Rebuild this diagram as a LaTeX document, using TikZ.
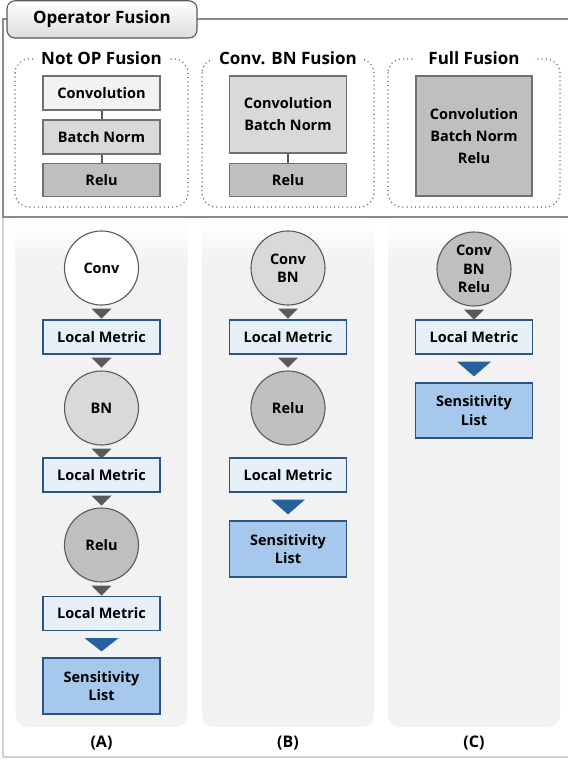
\documentclass[tikz,border=0pt]{standalone}
\usepackage{fontspec}
\setmainfont{Open Sans}[BoldFont={Open Sans Bold}]
\usetikzlibrary{calc}
\definecolor{lineg}{HTML}{595959}
\definecolor{boxb}{HTML}{707070}
\definecolor{f1}{HTML}{F2F2F2}
\definecolor{f2}{HTML}{D9D9D9}
\definecolor{f3}{HTML}{BFBFBF}
\definecolor{lmfill}{HTML}{E7EFF9}
\definecolor{blueb}{HTML}{2B5587}
\definecolor{sensfill}{HTML}{A6C8EC}
\definecolor{bluetri}{HTML}{27609E}
\definecolor{panelg}{HTML}{F2F2F2}
\definecolor{framet}{HTML}{8A8A8A}
\definecolor{frameb}{HTML}{D0D0D0}
\definecolor{tabbot}{HTML}{DCDCDC}
\begin{document}
\begin{tikzpicture}[x=1pt,y=-1pt,
  txt/.style={font=\bfseries\fontsize{14.5}{18.5}\selectfont, align=center},
  topbox/.style={txt, draw=boxb, line width=1.1pt, minimum width=117pt, inner sep=0pt},
  circ/.style={txt, circle, draw=lineg, line width=1.1pt, minimum size=74pt, inner sep=0pt},
  lmbox/.style={txt, draw=blueb, fill=lmfill, line width=1.2pt, minimum width=117pt, minimum height=34pt, inner sep=0pt},
  sensbox/.style={txt, draw=blueb, fill=sensfill, line width=1.2pt, minimum width=117pt, minimum height=56pt, inner sep=0pt},
  dotbox/.style={draw=lineg, line width=1.5pt, line cap=round, dash pattern=on 0pt off 4.2pt, rounded corners=14pt},
  grouptitle/.style={font=\bfseries\fontsize{17}{20}\selectfont, fill=white, inner xsep=6pt, inner ysep=1pt},
  conn/.style={draw=lineg, line width=2pt},
  tri/.style={fill=lineg},
  btri/.style={fill=bluetri},
  panel/.style={fill=panelg, rounded corners=12pt},
  caption/.style={font=\bfseries\fontsize{16}{18}\selectfont}
]
\useasboundingbox (0,0) rectangle (568,760);

% ---------- lower frame and panels ----------
\draw[frameb, line width=1.2pt] (3,217) -- (3,757) -- (568,757);
\foreach \cx in {101.5,288,474}{
  \fill[panel] (\cx-86,222) rectangle (\cx+86,727);
  \shade[top color=white, bottom color=panelg] (\cx-86,221) rectangle (\cx+86,262);
}
\node[caption] (capA) at (101.5,743) {(A)};
\node[caption] (capB) at (288,743) {(B)};
\node[caption] (capC) at (474,743) {(C)};

% ---------- top frame ----------
\draw[framet, line width=1.5pt] (7,19) -- (3,19) -- (3,217) -- (568,217);
\draw[framet, line width=1.5pt] (197,19) -- (568,19);
\shade[top color=white, bottom color=tabbot, draw=lineg, line width=1.1pt, rounded corners=8pt] (7,0.8) rectangle (197,38);
\node[font=\bfseries\fontsize{17}{20}\selectfont] (tab) at (102,19) {Operator Fusion};

% dotted groups
\draw[dotbox] (15,59) rectangle (188,207);
\draw[dotbox] (202,59) rectangle (374,207);
\draw[dotbox] (388,59) rectangle (560,207);
\node[grouptitle] (gA) at (101.5,58) {Not OP Fusion};
\node[grouptitle] (gB) at (288,58) {Conv. BN Fusion};
\node[grouptitle, inner xsep=14pt] (gC) at (474,58) {Full Fusion};

% A top boxes
\node[topbox, fill=f1, minimum height=34pt] (tA1) at (101.5,93) {Convolution};
\node[topbox, fill=f2, minimum height=34pt] (tA2) at (101.5,137) {Batch Norm};
\node[topbox, fill=f3, minimum height=33pt] (tA3) at (101.5,180) {Relu};
\draw[conn] (tA1.south) -- (tA2.north);
\draw[conn] (tA2.south) -- (tA3.north);
% B top boxes
\node[topbox, fill=f2, minimum height=77pt, font=\bfseries\fontsize{14.5}{22}\selectfont] (tB1) at (288,114.5) {Convolution\\Batch Norm};
\node[topbox, fill=f3, minimum height=33pt] (tB2) at (288,180) {Relu};
\draw[conn] (tB1.south) -- (tB2.north);
% C top box
\node[topbox, fill=f3, minimum height=120pt, minimum width=116pt, font=\bfseries\fontsize{14.5}{22}\selectfont] (tC1) at (474,136) {Convolution\\Batch Norm\\Relu};

% ---------- column A ----------
\node[circ, fill=white] (cA1) at (101.5,268) {Conv};
\node[lmbox] (lA1) at (101.5,337) {Local Metric};
\node[circ, fill=f2] (cA2) at (101.5,408) {BN};
\node[lmbox] (lA2) at (101.5,475) {Local Metric};
\node[circ, fill=f3] (cA3) at (101.5,545) {Relu};
\node[lmbox] (lA3) at (101.5,613.5) {Local Metric};
\node[sensbox] (sA) at (101.5,686) {Sensitivity\\List};

% ---------- column B ----------
\node[circ, fill=f2] (cB1) at (288,268) {Conv\\BN};
\node[lmbox] (lB1) at (288,337) {Local Metric};
\node[circ, fill=f3] (cB2) at (288,408) {Relu};
\node[lmbox] (lB2) at (288,475) {Local Metric};
\node[sensbox] (sB) at (288,549) {Sensitivity\\List};

% ---------- column C ----------
\node[circ, fill=f3] (cC1) at (474,269) {Conv\\BN\\Relu};
\node[lmbox] (lC1) at (474,337) {Local Metric};
\node[sensbox, minimum height=55pt] (sC) at (474,410.5) {Sensitivity\\List};

% gray triangle connectors
\foreach \a/\b in {cA1/lA1, lA1/cA2, cA2/lA2, lA2/cA3, cA3/lA3, cB1/lB1, lB1/cB2, cC1/lC1}{
  \fill[tri] ($(\a.south)+(-10,3)$) -- ($(\a.south)+(10,3)$) -- ($(\a.south)+(0,13)$) -- cycle;
}
% blue triangle connectors
\foreach \a/\b in {lA3/sA, lB2/sB, lC1/sC}{
  \fill[btri] ($(\a.south)+(-17,7)$) -- ($(\a.south)+(17,7)$) -- ($(\b.north)+(0,-6)$) -- cycle;
}
\end{tikzpicture}
\end{document}
